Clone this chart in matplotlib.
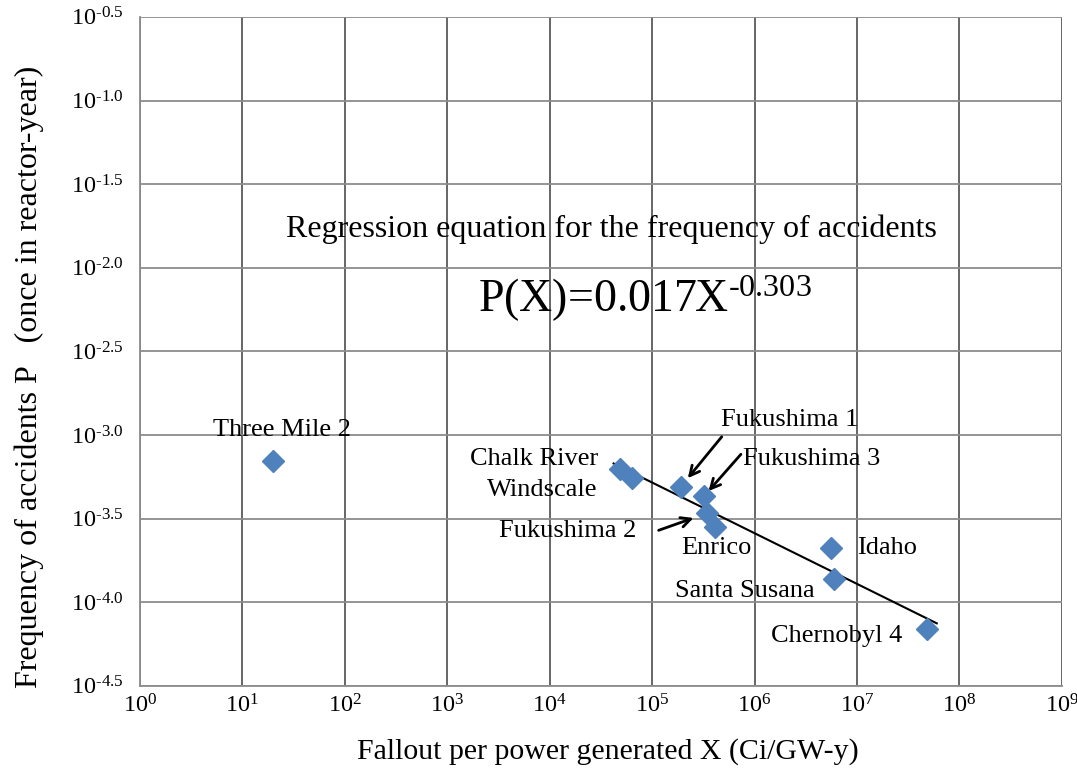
import numpy as np
import matplotlib
matplotlib.use('Agg')
from matplotlib import pyplot as plt

# data
names = ['Three Mile 2', 'Chalk River', 'Windscale', 'Fukushima 1', 'Fukushima 3',
         'Fukushima 2', 'Enrico', 'Idaho', 'Santa Susana', 'Chernobyl 4']
fallout = [20, 4.8e4, 6.3e4, 1.9e5, 3.2e5, 3.4e5, 4.1e5, 5.6e6, 6.0e6, 4.8e7]
freq = [7.0e-4, 6.3e-4, 5.5e-4, 4.9e-4, 4.3e-4, 3.4e-4, 2.8e-4, 2.1e-4, 1.38e-4, 6.9e-5]

# regression P(X) = a * X^b
coef_a = 0.017
coef_b = -0.303
fit_range = [4.2e4, 6.0e7]

x_ticks = [10.0 ** k for k in range(0, 10)]
y_exps = [-4.5, -4.0, -3.5, -3.0, -2.5, -2.0, -1.5, -1.0, -0.5]

plt.rcParams['font.family'] = ['Liberation Serif', 'DejaVu Serif']
plt.rcParams['mathtext.fontset'] = 'custom'
plt.rcParams['mathtext.rm'] = 'Liberation Serif'
plt.rcParams['mathtext.it'] = 'Liberation Serif'
plt.rcParams['axes.unicode_minus'] = False

fig = plt.figure(figsize=(10.77, 7.68), dpi=100)
ax = fig.add_axes([0.130, 0.107, 0.856, 0.871])

ax.set_xscale('log')
ax.set_yscale('log')
ax.set_xlim(1, 1e9)
ax.set_ylim(10 ** -4.5, 10 ** -0.5)

ax.set_xticks(x_ticks)
ax.set_xticklabels(['$10^{%d}$' % k for k in range(0, 10)])
ax.set_yticks([10 ** e for e in y_exps])
ax.set_yticklabels(['$10^{\\text{%.1f}}$' % e for e in y_exps])
ax.minorticks_off()
ax.tick_params(axis='both', length=0, labelsize=17.5)
ax.tick_params(axis='y', pad=12)
ax.tick_params(axis='x', pad=6)

for xv in x_ticks:
    ax.axvline(xv, color='#5a5a5a', lw=1.3, zorder=1)
for e in y_exps:
    ax.axhline(10 ** e, color='#8c8c8c', lw=1.3, zorder=1)

for s in ['top', 'right']:
    ax.spines[s].set_visible(False)
ax.spines['left'].set_color('#8c8c8c')
ax.spines['bottom'].set_color('#8c8c8c')
ax.spines['left'].set_linewidth(1.3)
ax.spines['bottom'].set_linewidth(1.3)

# regression line
xf = np.array(fit_range)
ax.plot(xf, coef_a * xf ** coef_b, color='black', lw=1.5, zorder=3)

ax.plot(fallout, freq, linestyle='none', marker='D', markersize=11,
        color='#4f81bd', markeredgecolor='#4f81bd', zorder=4)

# point labels (offsets in pixels from each point)
lab = dict(textcoords='offset pixels', fontsize=19, zorder=5)
ax.annotate('Three Mile 2', (fallout[0], freq[0]), xytext=(9, 31), ha='center', va='center', **lab)
ax.annotate('Chalk River', (fallout[1], freq[1]), xytext=(-21, 10), ha='right', va='center', **lab)
ax.annotate('Windscale', (fallout[2], freq[2]), xytext=(-34, -12), ha='right', va='center', **lab)
ax.annotate('Fukushima 1', (fallout[3], freq[3]), xytext=(109, 67), ha='center', va='center', **lab)
ax.annotate('Fukushima 3', (fallout[4], freq[4]), xytext=(39, 37), ha='left', va='center', **lab)
ax.annotate('Fukushima 2', (fallout[5], freq[5]), xytext=(-70, -18), ha='right', va='center', **lab)
ax.annotate('Enrico', (fallout[6], freq[6]), xytext=(1, -21), ha='center', va='center', **lab)
ax.annotate('Idaho', (fallout[7], freq[7]), xytext=(26, 0), ha='left', va='center', **lab)
ax.annotate('Santa Susana', (fallout[8], freq[8]), xytext=(-90, -12), ha='center', va='center', **lab)
ax.annotate('Chernobyl 4', (fallout[9], freq[9]), xytext=(-90, -7), ha='center', va='center', **lab)

arr = dict(arrowstyle='->,head_length=0.7,head_width=0.35', color='black', lw=2)
ax.annotate('', (fallout[3], freq[3]), xytext=(41, 50), textcoords='offset pixels',
            arrowprops=dict(shrinkA=0, shrinkB=8, **arr))
ax.annotate('', (fallout[4], freq[4]), xytext=(37, 42), textcoords='offset pixels',
            arrowprops=dict(shrinkA=0, shrinkB=5, **arr))
ax.annotate('', (fallout[5], freq[5]), xytext=(-48, -17), textcoords='offset pixels',
            arrowprops=dict(shrinkA=0, shrinkB=10, **arr))

ax.text(0.511, 0.683, 'Regression equation for the frequency of accidents',
        transform=ax.transAxes, ha='center', va='center', fontsize=23)
ax.text(0.548, 0.578, r'P(X)=0.017X$^{\text{%.3f}}$' % coef_b,
        transform=ax.transAxes, ha='center', va='center', fontsize=33)

ax.set_xlabel('Fallout per power generated X (Ci/GW-y)', fontsize=21.5)
ax.xaxis.set_label_coords(0.508, -0.078)
ax.set_ylabel('Frequency of accidents P   (once in reactor-year)', fontsize=23)
ax.yaxis.set_label_coords(-0.104, 0.462)

fig.savefig('out.png', dpi=100)
